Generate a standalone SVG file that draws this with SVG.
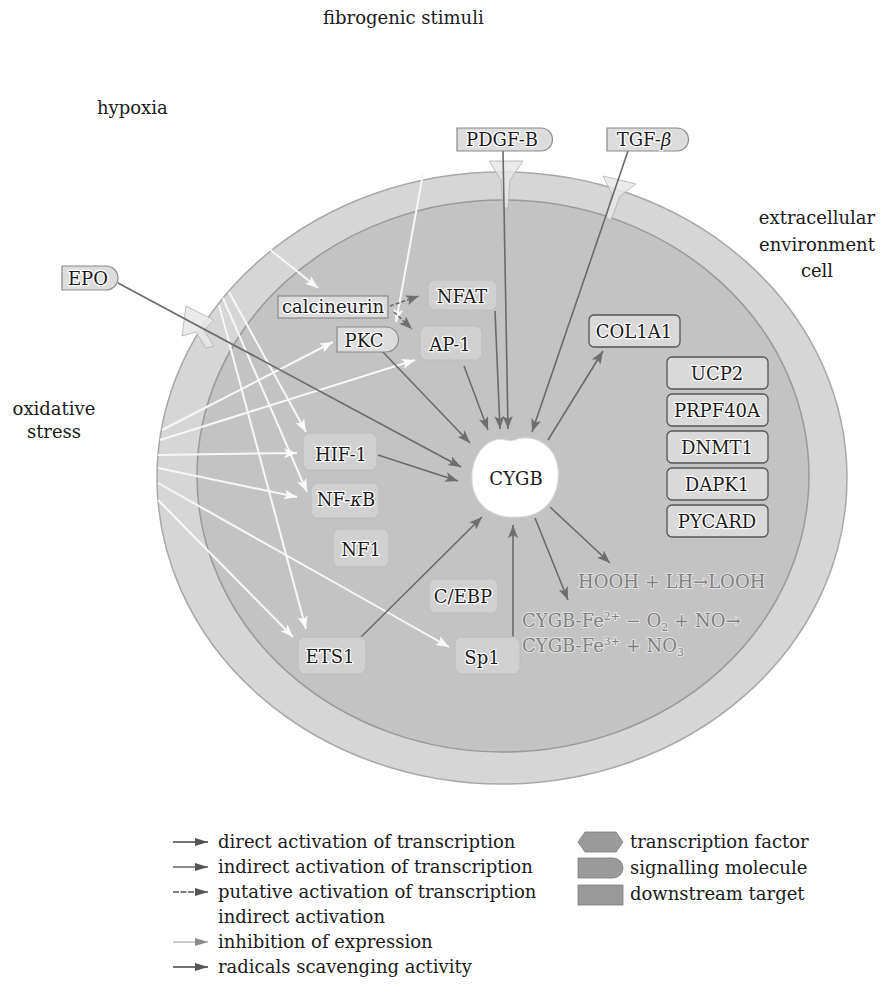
<svg xmlns="http://www.w3.org/2000/svg" width="881" height="1003" viewBox="0 0 881 1003">
<style>
text{font-family:"DejaVu Serif","Liberation Serif",serif;fill:#1a1a1a}
.lbl{font-size:18px}
.nd{font-size:18px;text-anchor:middle;stroke:#ffffff;stroke-width:2.5px;paint-order:stroke;stroke-linejoin:round}
.rx{font-size:18px;fill:#808080;stroke:#e2e2e2;stroke-width:2px;paint-order:stroke}
.sig{fill:#dcdcdc;stroke:#8a8a8a;stroke-width:1.2}
.tf{fill:#d0d0d0;stroke:#bcbcbc;stroke-width:1}
.tgt{fill:#d9d9d9;stroke:#555555;stroke-width:1.3}
.dk{stroke:#6a6a6a;stroke-width:1.6;fill:none}
.wt{stroke:#f7f7f7;stroke-width:2;fill:none}
.rec{fill:#e6e6e6;fill-opacity:0.85;stroke:#b0b0b0;stroke-width:0.8}
</style>
<defs>
<marker id="ad" markerUnits="userSpaceOnUse" markerWidth="14" markerHeight="10" refX="13" refY="5" orient="auto"><path d="M0,0 L13,5 L0,10 L3,5 Z" fill="#6e6e6e"/></marker>
<marker id="aw" markerUnits="userSpaceOnUse" markerWidth="14" markerHeight="10" refX="13" refY="5" orient="auto"><path d="M0,0 L13,5 L0,10 L3,5 Z" fill="#fafafa"/></marker>
<marker id="al" markerUnits="userSpaceOnUse" markerWidth="14" markerHeight="10" refX="13" refY="4" orient="auto"><path d="M0,0 L13,4 L0,8 Z" fill="#555555"/></marker>
<marker id="all" markerUnits="userSpaceOnUse" markerWidth="14" markerHeight="10" refX="13" refY="4" orient="auto"><path d="M0,0 L13,4 L0,8 Z" fill="#8a8a8a"/></marker>
</defs>

<!-- cell -->
<g id="cell">
<ellipse cx="502" cy="478" rx="345" ry="306" fill="#d6d6d6" stroke="#a8a8a8" stroke-width="1.5"/>
<ellipse cx="503" cy="476" rx="306" ry="276" fill="#c3c3c3" stroke="#9a9a9a" stroke-width="1.5"/>
</g>

<!-- outside labels -->
<g id="labels">
<text class="lbl" x="323" y="24">fibrogenic stimuli</text>
<text class="lbl" x="97" y="114">hypoxia</text>
<text class="lbl" x="817" y="224" text-anchor="middle">extracellular</text>
<text class="lbl" x="817" y="251" text-anchor="middle">environment</text>
<text class="lbl" x="817" y="277" text-anchor="middle">cell</text>
<text class="lbl" x="54" y="415" text-anchor="middle">oxidative</text>
<text class="lbl" x="54" y="438" text-anchor="middle">stress</text>
</g>

<!-- receptors at membrane -->
<g id="receptors">
<path class="rec" d="M489,161 L523,161 L510,180 L508,208 L503,208 L501,180 Z"/>
<path class="rec" d="M603,176 L636,184 L620,196 L611,220 L606,218 L612,194 Z"/>
<path class="rec" d="M186,306 L214,320 L204,330 L214,346 L206,348 L196,332 L182,336 Z"/>
</g>

<!-- connectors -->
<g id="connectors">
<line class="wt" x1="268" y1="248" x2="318" y2="288" marker-end="url(#aw)"/>
<line class="wt" x1="423" y1="174" x2="396" y2="322" marker-end="url(#aw)"/>
<line class="wt" x1="229" y1="292" x2="306" y2="432" marker-end="url(#aw)"/>
<line class="wt" x1="223" y1="298" x2="307" y2="492" marker-end="url(#aw)"/>
<line class="wt" x1="219" y1="305" x2="306" y2="629" marker-end="url(#aw)"/>
<line class="wt" x1="162" y1="430" x2="333" y2="342" marker-end="url(#aw)"/>
<line class="wt" x1="160" y1="440" x2="415" y2="360" marker-end="url(#aw)"/>
<line class="wt" x1="158" y1="455" x2="297" y2="453" marker-end="url(#aw)"/>
<line class="wt" x1="158" y1="468" x2="297" y2="497" marker-end="url(#aw)"/>
<line class="wt" x1="158" y1="483" x2="449" y2="647" marker-end="url(#aw)"/>
<line class="wt" x1="158" y1="500" x2="293" y2="637" marker-end="url(#aw)"/>
<line class="dk" x1="118" y1="283" x2="461" y2="467" marker-end="url(#ad)"/>
<line class="dk" x1="381" y1="350" x2="470" y2="443" marker-end="url(#ad)"/>
<line class="dk" x1="378" y1="455" x2="458" y2="481" marker-end="url(#ad)"/>
<line class="dk" x1="464" y1="366" x2="488" y2="430" marker-end="url(#ad)"/>
<line class="dk" x1="495" y1="311" x2="500" y2="429" marker-end="url(#ad)"/>
<line class="dk" x1="503" y1="151" x2="508" y2="429" marker-end="url(#ad)"/>
<line class="dk" x1="628" y1="151" x2="532" y2="432" marker-end="url(#ad)"/>
<line class="dk" x1="548" y1="440" x2="603" y2="351" marker-end="url(#ad)"/>
<line class="dk" x1="360" y1="638" x2="482" y2="517" marker-end="url(#ad)"/>
<line class="dk" x1="513" y1="638" x2="513" y2="525" marker-end="url(#ad)"/>
<line class="dk" x1="550" y1="507" x2="610" y2="563" marker-end="url(#ad)"/>
<line class="dk" x1="535" y1="518" x2="568" y2="600" marker-end="url(#ad)"/>
<line class="dk" x1="390" y1="306" x2="419" y2="296" stroke-dasharray="4 2" marker-end="url(#ad)"/>
<line class="dk" x1="394" y1="312" x2="412" y2="329" stroke-dasharray="4 2" marker-end="url(#ad)"/>
</g>

<!-- nodes -->
<g id="EPO"><path class="sig" d="M62,266 H106 A12,12 0 0 1 106,290 H62 Z" fill="#e4e4e4"/><text class="nd" x="88" y="285">EPO</text></g>
<g id="PDGF-B"><path class="sig" d="M457,128 H541 A11.5,11.5 0 0 1 541,151 H457 Z"/><text class="nd" x="502" y="146">PDGF-B</text></g>
<g id="TGF-beta"><path class="sig" d="M607,128 H677 A11.5,11.5 0 0 1 677,151 H607 Z"/><text class="nd" x="644" y="146">TGF-<tspan font-style="italic">β</tspan></text></g>
<g id="calcineurin"><rect class="sig" x="278" y="296" width="110" height="22" fill="#d8d8d8"/><text class="nd" x="333" y="313">calcineurin</text></g>
<g id="NFAT"><path class="tf" d="M432,280 H493 L497,285 V305 L493,310 H432 L428,305 V285 Z"/><text class="nd" x="462" y="303">NFAT</text></g>
<g id="PKC"><path class="sig" d="M337,327 H386 A12.5,12.5 0 0 1 386,352 H337 Z"/><text class="nd" x="364" y="347">PKC</text></g>
<g id="AP-1"><path class="tf" d="M424,326 H478 L482,331 V355 L478,360 H424 L420,355 V331 Z"/><text class="nd" x="450" y="351">AP-1</text></g>
<g id="HIF-1"><path class="tf" d="M307,433 H373 L377,438 V465 L373,470 H307 L303,465 V438 Z"/><text class="nd" x="341" y="461">HIF-1</text></g>
<g id="NF-kB"><path class="tf" d="M315,483 H375 L379,488 V513 L375,518 H315 L311,513 V488 Z"/><text class="nd" x="346" y="506">NF-<tspan font-style="italic">κ</tspan>B</text></g>
<g id="NF1"><path class="tf" d="M337,529 H385 L389,534 V562 L385,567 H337 L333,562 V534 Z"/><text class="nd" x="361" y="556">NF1</text></g>
<g id="C-EBP"><path class="tf" d="M433,579 H494 L498,584 V608 L494,613 H433 L429,608 V584 Z"/><text class="nd" x="463" y="603">C/EBP</text></g>
<g id="ETS1"><path class="tf" d="M302,637 H362 L366,642 V669 L362,674 H302 L298,669 V642 Z"/><text class="nd" x="330" y="663">ETS1</text></g>
<g id="Sp1"><path class="tf" d="M459,637 H516 L520,642 V669 L516,674 H459 L455,669 V642 Z"/><text class="nd" x="482" y="664">Sp1</text></g>
<g id="CYGB"><path d="M515,440 C532,433 556,444 558,470 C560,500 541,518 515,517 C490,518 472,502 472,478 C472,452 490,436 505,440 Q510,442 515,440 Z" fill="#ffffff" stroke="#e0e0e0" stroke-width="1"/><text class="nd" x="516" y="485" font-size="19" stroke="none">CYGB</text></g>
<g id="COL1A1"><rect class="tgt" x="589" y="315" width="91" height="32" rx="5"/><text class="nd" x="634" y="338">COL1A1</text></g>
<g id="UCP2"><rect class="tgt" x="667" y="357" width="101" height="32" rx="5"/><text class="nd" x="717" y="380">UCP2</text></g>
<g id="PRPF40A"><rect class="tgt" x="667" y="394" width="101" height="32" rx="5"/><text class="nd" x="717" y="417">PRPF40A</text></g>
<g id="DNMT1"><rect class="tgt" x="667" y="431" width="101" height="32" rx="5"/><text class="nd" x="717" y="454">DNMT1</text></g>
<g id="DAPK1"><rect class="tgt" x="667" y="468" width="101" height="32" rx="5"/><text class="nd" x="717" y="491">DAPK1</text></g>
<g id="PYCARD"><rect class="tgt" x="667" y="505" width="101" height="32" rx="5"/><text class="nd" x="717" y="528">PYCARD</text></g>

<!-- reactions -->
<g id="reactions">
<text class="rx" x="578" y="588">HOOH + LH→LOOH</text>
<text class="rx" x="522" y="627">CYGB-Fe<tspan font-size="11" dy="-7">2+</tspan><tspan dy="7"> − O</tspan><tspan font-size="11" dy="4">2</tspan><tspan dy="-4"> + NO→</tspan></text>
<text class="rx" x="522" y="652">CYGB-Fe<tspan font-size="11" dy="-7">3+</tspan><tspan dy="7"> + NO</tspan><tspan font-size="11" dy="4">3</tspan></text>
</g>

<!-- legend -->
<g id="legend">
<line x1="173" y1="842" x2="208" y2="842" stroke="#444" stroke-width="1.6" marker-end="url(#al)"/>
<text class="lbl" x="218" y="848">direct activation of transcription</text>
<line x1="173" y1="867" x2="208" y2="867" stroke="#666" stroke-width="1.4" marker-end="url(#al)"/>
<text class="lbl" x="218" y="873">indirect activation of transcription</text>
<line x1="173" y1="892" x2="208" y2="892" stroke="#555" stroke-width="1.4" stroke-dasharray="6 1.5" marker-end="url(#al)"/>
<text class="lbl" x="218" y="898">putative activation of transcription</text>
<text class="lbl" x="218" y="923">indirect activation</text>
<line x1="173" y1="942" x2="208" y2="942" stroke="#9a9a9a" stroke-width="1.2" marker-end="url(#all)"/>
<text class="lbl" x="218" y="948">inhibition of expression</text>
<line x1="173" y1="967" x2="208" y2="967" stroke="#444" stroke-width="1.6" marker-end="url(#al)"/>
<text class="lbl" x="218" y="973">radicals scavenging activity</text>
<path d="M585,832 H616 L623,842 L616,852 H585 L578,842 Z" fill="#9a9a9a" stroke="#7a7a7a" stroke-width="0.8"/>
<text class="lbl" x="630" y="848">transcription factor</text>
<path d="M578,858 H613 A10,10 0 0 1 613,878 H578 Z" fill="#9a9a9a" stroke="#7a7a7a" stroke-width="0.8"/>
<text class="lbl" x="630" y="874">signalling molecule</text>
<rect x="578" y="885" width="45" height="20" fill="#9a9a9a" stroke="#7a7a7a" stroke-width="0.8"/>
<text class="lbl" x="630" y="900">downstream target</text>
</g>
</svg>
